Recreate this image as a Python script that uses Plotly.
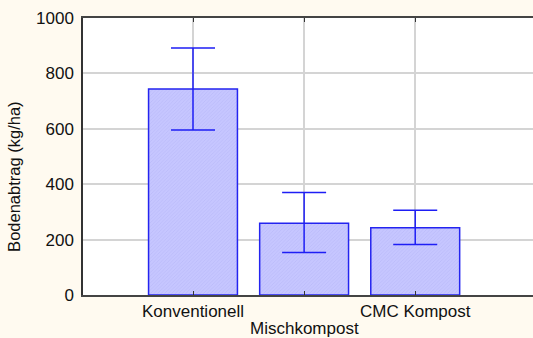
import plotly.graph_objects as go

categories = ["Konventionell", "Mischkompost", "CMC Kompost"]
tick_labels = ["Konventionell", "", "CMC Kompost"]
means = [744, 259, 243]
err_upper = [148, 111, 63]
err_lower = [148, 106, 61]
y_ticks = [0, 200, 400, 600, 800, 1000]

xpos = list(range(len(categories)))

fig = go.Figure()
fig.add_trace(go.Bar(
    x=xpos, y=means, width=0.8,
    marker=dict(
        color="#C2C2FF",
        line=dict(color="#2424F0", width=1.5),
        pattern=dict(shape="/", fillmode="overlay", fgcolor="#ADADF2", bgcolor="#C6C6FF", size=2.5, solidity=0.3),
    ),
    error_y=dict(type="data", symmetric=False, array=err_upper, arrayminus=err_lower,
                 color="#1E1EF5", thickness=1.5, width=22),
    showlegend=False,
))

font = dict(family="Liberation Sans, Arial, sans-serif", size=17, color="#111111")

fig.update_layout(
    width=533, height=338,
    margin=dict(l=83, r=0, t=18, b=43),
    paper_bgcolor="#FFFAF0", plot_bgcolor="#FFFFFF",
    font=font,
    bargap=0.2,
    xaxis=dict(
        range=[-0.99, 3.06], tickvals=xpos, ticktext=tick_labels, tickangle=0,
        automargin=False,
        showgrid=True, gridcolor="#D4D4D4", gridwidth=1.5,
        showline=True, linecolor="#444444", linewidth=2, mirror="ticks",
        ticks="inside", ticklen=4, tickcolor="#333333",
        zeroline=False, fixedrange=True,
    ),
    yaxis=dict(
        range=[0, 1000], tickvals=y_ticks, automargin=False,
        showgrid=True, gridcolor="#D4D4D4", gridwidth=1.5,
        showline=True, linecolor="#333333", linewidth=1.5,
        ticks="", zeroline=False, ticklabelstandoff=4, fixedrange=True,
    ),
    annotations=[
        dict(
            text="Bodenabtrag (kg/ha)", textangle=-90, xref="paper", yref="paper",
            x=-0.152, y=0.425, xanchor="center", yanchor="middle", showarrow=False,
            font=dict(family="Liberation Sans, Arial, sans-serif", size=16.5, color="#111111"),
        ),
        dict(
            text=categories[1], xref="x", yref="paper", x=xpos[1], y=0,
            yshift=-33, xanchor="center", yanchor="middle", showarrow=False,
            font=font,
        ),
    ],
)

fig.write_html("out.html", config={"displayModeBar": False},
               post_script="document.body.style.margin='0';document.body.style.overflow='hidden';")
